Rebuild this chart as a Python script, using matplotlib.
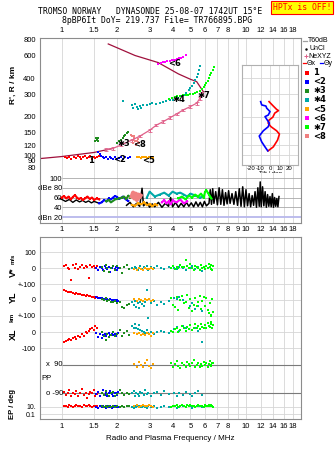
"""Dynasonde ionogram, Tromso 25-08-07 1742UT"""
import matplotlib
matplotlib.use('Agg')
import matplotlib.pyplot as plt
import matplotlib.ticker as mticker
import numpy as np

plt.rcParams['font.family'] = ['Liberation Sans', 'DejaVu Sans']
plt.rcParams['font.size'] = 5.5
plt.rcParams['axes.unicode_minus'] = False

W, H = 335.0, 451.0

# ---- axes ticks
f_ticks = [1, 1.5, 2, 3, 4, 5, 6, 7, 8, 10, 12, 14, 16, 18]
f_ticks_mid = [1, 1.5, 2, 3, 4, 5, 6, 7, 8, 9, 10, 12, 14, 16, 18]
r_ticks = [80, 90, 100, 120, 150, 200, 300, 400, 600, 800]
tilt_ticks = [-20, -10, 0, 10, 20]

# ---- echo groups
grp_names = ['1', '<2', '\u27313', '\u27314', '<5', '<6', '\u27317', '<8']
grp_colors = ['#ff0000', '#0000ff', '#1e8c1e', '#00a8a8',
              '#ffa500', '#ff00ff', '#00ff00', '#f08080']
grp_label_f = [1.45, 2.07, 2.18, 4.33, 2.95, 4.12, 5.87, 2.66]
grp_label_R = [90, 92.7, 124, 274, 90, 517, 295, 122]

# ---- virtual range R' (km) per group
e1_f = [1.04, 1.07, 1.10, 1.13, 1.16, 1.19, 1.22, 1.25, 1.28, 1.31, 1.34, 1.37, 1.40, 1.43, 1.46, 1.49, 1.52, 1.56, 1.60]
e1_R = [97, 95, 96, 94, 97, 95, 98, 96, 94, 97, 99, 95, 96, 98, 94, 97, 95, 96, 98]
e2_f = [1.58, 1.62, 1.64, 1.67, 1.70, 1.74, 1.78, 1.82, 1.86, 1.90, 1.95, 2.00, 2.05, 2.10, 2.16, 2.22, 2.28, 2.34]
e2_R = [106, 103, 98, 96, 95, 97, 94, 96, 95, 93, 96, 94, 95, 97, 94, 96, 95, 97]
e3_f = [1.52, 1.54, 1.55, 1.57, 1.58, 1.99, 2.05, 2.10, 2.14, 2.18, 2.22, 2.26, 2.30]
e3_R = [128, 135, 131, 137, 129, 124, 128, 132, 136, 140, 143, 148, 151]
e4_f = [2.16, 2.40, 2.45, 2.50, 2.55, 2.60, 2.65, 2.70, 2.76, 2.90, 3.00, 3.10, 3.25, 3.40, 3.55, 3.70,
        3.85, 4.00, 4.15, 4.30, 4.45, 4.60, 4.75, 4.90, 5.00, 5.10, 5.20, 5.30, 5.40, 5.48, 5.55, 5.62]
e4_R = [265, 245, 232, 250, 238, 228, 242, 235, 248, 246, 250, 255, 252, 258, 262, 265,
        268, 272, 276, 282, 290, 298, 308, 322, 335, 350, 368, 388, 410, 435, 465, 500]
e5_f = [2.55, 2.62, 2.68, 2.74, 2.80, 2.86, 2.92, 2.98, 3.05, 3.12]
e5_R = [96, 97, 95, 96, 97, 96, 95, 97, 96, 95]
e6_f = [3.35, 3.45, 3.55, 3.65, 3.75, 3.85, 3.95, 4.05, 4.15, 4.25, 4.35, 4.45, 4.55, 4.70]
e6_R = [520, 530, 538, 535, 545, 548, 552, 556, 560, 566, 572, 580, 588, 605]
e7_f = [3.80, 3.95, 4.10, 4.25, 4.40, 4.55, 4.70, 4.85, 5.00, 5.15, 5.30, 5.45, 5.60, 5.75, 5.90,
        6.00, 6.10, 6.20, 6.30, 6.40, 6.50, 6.60, 6.70]
e7_R = [275, 280, 284, 288, 290, 293, 296, 298, 300, 303, 306, 310, 318, 328, 340,
        352, 365, 380, 398, 420, 442, 465, 490]
e8_f = [2.37, 2.40, 2.43, 2.45, 2.48, 2.50, 2.52, 2.55, 2.58, 2.60, 2.62, 2.47, 2.53]
e8_R = [143, 140, 132, 125, 136, 128, 122, 130, 126, 134, 124, 142, 120]

# ---- profile lines
maroon_hi_f = [1.79, 2.5, 3.34, 4.3, 5.0, 5.40, 5.87]
maroon_hi_R = [741, 602, 530, 432, 392, 376, 314]
maroon_lo_f = [0.763, 1.0, 1.5, 1.9]
maroon_lo_R = [94, 97.5, 105, 113]
nexyz_f = [1.75, 1.90, 2.10, 2.40, 2.66, 3.01, 3.27, 3.56, 3.87, 4.20, 4.57, 4.97, 5.40, 5.63, 5.75]
nexyz_R = [110, 113, 120, 131, 141, 157, 172, 183, 196, 210, 226, 239, 255, 279, 305]

# ---- tilt profile
tx_R = [262, 242, 228, 223, 213, 198, 188, 178, 167, 155, 146, 131, 116, 108]
tx_deg = [-1, 3.5, 7, 9, 5, 3, -1, -2, 1, 7, 10, 8, 3.5, -2]
ty_R = [262, 247, 242, 233, 219, 206, 200, 191, 178, 167, 155, 141, 127, 116, 108]
ty_deg = [-9.9, -8.8, -4.3, -3.5, 0, -1.8, -5.3, -3.5, -0.7, -1.8, -7.1, -11.4, -8.8, -5.3, -2.4]

# ---- amplitude dBe
a1_f = [1.00, 1.03, 1.06, 1.09, 1.12, 1.15, 1.18, 1.21, 1.24, 1.27, 1.30, 1.34, 1.38, 1.42, 1.46, 1.50, 1.55, 1.60]
a1_db = [60, 63, 58, 62, 56, 61, 65, 60, 57, 59, 55, 58, 62, 57, 60, 55, 58, 56]
a2_f = [1.60, 1.65, 1.70, 1.75, 1.80, 1.85, 1.90, 1.95, 2.00, 2.05, 2.10, 2.15, 2.20, 2.25, 2.30]
a2_db = [48, 50, 55, 52, 58, 56, 60, 63, 61, 57, 59, 62, 58, 55, 53]
a3_f = [1.75, 1.80, 1.85, 1.95, 2.05, 2.12, 2.18, 2.24, 2.30, 2.36]
a3_db = [52, 55, 50, 56, 58, 60, 62, 57, 64, 60]
a4_f = [2.9, 3.0, 3.2, 3.4, 3.6, 3.8, 4.0, 4.2, 4.4, 4.6, 4.8, 5.0, 5.3, 5.6, 5.9]
a4_db = [60, 72, 62, 66, 70, 64, 72, 68, 70, 66, 62, 68, 64, 60, 62]
a5_f = [2.40, 2.50, 2.60, 2.70, 2.80, 2.90, 3.00, 3.10, 3.20, 3.30]
a5_db = [45, 43, 48, 46, 50, 44, 47, 42, 46, 44]
a6_f = [3.5, 3.6, 3.7, 3.8, 3.9, 4.0, 4.2, 4.4, 4.6, 4.8]
a6_db = [50, 55, 48, 52, 46, 54, 50, 56, 48, 52]
a7_f = [4.3, 4.5, 4.7, 4.9, 5.1, 5.3, 5.5, 5.7, 5.9, 6.0, 6.1, 6.2, 6.3, 6.4, 6.5]
a7_db = [58, 62, 56, 64, 60, 66, 62, 68, 60, 72, 75, 70, 66, 62, 58]
a8_f = [2.40, 2.44, 2.48, 2.52, 2.56, 2.60, 2.64, 2.68]
a8_db = [62, 70, 58, 68, 55, 66, 60, 64]
blk1_f = [0.98, 1.05, 1.1, 1.15, 1.2, 1.25, 1.3, 1.35, 1.4, 1.45, 1.5, 1.55, 1.6]
blk1_db = [58, 52, 56, 50, 55, 51, 54, 50, 53, 49, 52, 50, 48]
blk_f = [2.25, 2.35, 2.45, 2.55, 2.65, 2.73, 2.78, 2.9, 3.0, 3.1, 3.2, 3.35, 3.5, 3.65, 3.8, 3.9, 4.0,
         4.15, 4.3, 4.45, 4.6, 4.75, 4.9, 5.05, 5.2, 5.35, 5.5, 5.65, 5.8, 5.95, 6.1, 6.3, 6.4, 6.5,
         6.6, 6.7, 6.85, 7.0, 7.15, 7.3, 7.45, 7.6, 7.75, 7.9, 8.05, 8.2, 8.4, 8.6, 8.8, 9.0, 9.2,
         9.4, 9.6, 9.8, 10.0, 10.2, 10.4, 10.6, 10.8, 11.0, 11.2, 11.4, 11.6, 11.8, 11.95, 12.1,
         12.3, 12.5, 12.7, 12.9, 13.1, 13.3, 13.5, 13.7, 13.9, 14.1, 14.3, 14.5, 14.7, 14.9, 15.1]
blk_db = [44, 50, 41, 48, 42, 79, 43, 50, 40, 47, 41, 50, 40, 48, 42, 60, 41,
          50, 40, 48, 41, 50, 42, 49, 41, 51, 42, 50, 41, 52, 43, 48, 76, 46,
          78, 48, 72, 45, 80, 46, 76, 44, 70, 47, 74, 48, 68, 46, 72, 44, 78,
          42, 82, 41, 76, 43, 68, 41, 64, 44, 72, 40, 80, 42, 92, 41,
          82, 43, 72, 40, 66, 42, 62, 41, 68, 40, 60, 42, 58, 41, 62]

# ---- Doppler V* (m/s), location YL / XL (km), polarization PP, EP (deg)
g1_f = [1.03, 1.06, 1.08, 1.10, 1.12, 1.15, 1.18, 1.20, 1.23, 1.26, 1.29, 1.32, 1.35, 1.38, 1.40, 1.43, 1.46, 1.49, 1.52, 1.55]
g1_v = [12, 20, 0, -5, -70, 18, 5, 30, -4, 10, 22, 0, 15, 8, -62, 18, 6, 12, 2, 16]
g1_yl = [62, 58, 52, 48, 50, 45, 40, 44, 38, 36, 30, 32, 26, 30, 22, 24, 18, 20, 15, 17]
g1_xl = [-62, -55, -48, -40, -50, -38, -30, -42, -22, -28, -12, -20, 0, -5, 10, 20, 28, 15, 40, 25]
g1_pp = [-80, -100, -90, -70, -110, -85, -95, -75, -105, -90, -60, -100, -85, -120, -95, -80, -90, -70, -110, -95]
g1_ep = [12, 20, 8, 25, 15, 10, 18, 30, 12, 20, 9, 22, 16, 12, 28, 18, 10, 14, 20, 12]

g2_f = [1.54, 1.58, 1.62, 1.65, 1.68, 1.71, 1.74, 1.77, 1.80, 1.84, 1.88, 1.91, 1.94, 1.97, 2.00, 2.03]
g2_v = [5, -8, 10, 0, -12, 15, 3, -5, 8, -20, 2, 12, -3, 6, -10, 4]
g2_yl = [18, 14, 10, 12, 8, 6, 10, 4, 2, 5, 0, -3, 2, -6, -2, -8]
g2_xl = [-5, -28, -10, -35, -15, -8, -20, -12, -5, -18, -10, -15, -8, -22, -12, -6]
g2_pp = [-95, -80, -105, -90, -70, -100, -85, -110, -90, -75, -95, -105, -85, -90, -100, -80]
g2_ep = [10, 6, 14, 8, 20, 10, 5, 12, 8, 16, 6, 10, 14, 7, 12, 9]

g3_f = [1.66, 1.70, 1.73, 1.76, 1.80, 1.85, 1.90, 1.95, 2.00, 2.06, 2.12, 2.18, 2.25, 2.32]
g3_v = [10, -15, 20, 0, -25, 5, 12, -10, 15, 0, -30, 8, 18, -5]
g3_yl = [8, 2, 12, -5, 0, -10, -15, -8, -20, -12, -45, -52, -30, -25]
g3_xl = [5, -20, -45, -10, -30, -15, 0, -25, -8, 12, -20, -5, 10, -15]
g3_pp = [-85, -100, -75, -95, -110, -90, -80, -105, -95, -70, -90, -100, -85, -95]
g3_ep = [12, 8, 15, 10, 20, 9, 14, 11, 18, 8, 13, 10, 16, 12]

g4_f = [2.42, 2.46, 2.50, 2.54, 2.58, 2.62, 2.66, 2.72, 2.78, 2.85, 2.90, 2.93, 3.05, 3.15, 3.30, 3.45,
        3.60, 3.80, 4.05, 4.20, 4.35, 4.55, 4.75, 4.95, 5.10, 5.30, 5.50, 5.75]
g4_v = [5, -5, 10, 0, -8, 3, 12, -3, 6, 0, 15, -10, 8, 5, 12, 0, -6, 10, 2, -4, 8, 0, -10, 5, 12, -2, 6, -15]
g4_yl = [-10, -30, -5, -45, -20, -50, -15, -25, -35, -10, 65, -112, -20, -5, -30, -15,
         -25, -8, 15, 5, 20, 0, -10, -35, -20, -55, -40, -70]
g4_xl = [40, 25, 55, 30, 20, 45, 15, 8, 0, -5, 12, -6, 5, -8, 0, 10, 2, -4, 20, 35, 10, 40, 25, 45, 15, 30, 8, -58]
g4_pp = [-90, -75, -105, -85, -95, -110, -80, -90, -100, -70, -95, -85, -105, -90, -80, -100,
         -75, -95, -90, -110, -85, -100, -80, -95, -105, -90, -75, -100]
g4_ep = [10, 6, 15, 8, 12, 20, 7, 10, 14, 9, 5, 12, 8, 16, 6, 10, 12, 8, 15, 5, 10, 12, 8, 14, 6, 10, 16, 9]

g5_f = [2.48, 2.55, 2.62, 2.68, 2.75, 2.82, 2.90, 2.98, 3.05, 3.12]
g5_v = [-2, -8, 0, -5, -10, 2, -4, -6, 0, -3]
g5_yl = [5, -5, 8, 0, -8, 4, -2, 6, -6, 2]
g5_xl = [-5, -12, -2, -18, -8, -15, -3, -10, -20, -6]
g5_pp = [95, 75, 110, 90, 80, 100, 120, 85, 70, 95]
g5_ep = [15, 25, 10, 20, 30, 12, 18, 22, 14, 10]

g7_f = [3.90, 4.00, 4.10, 4.20, 4.30, 4.40, 4.50, 4.60, 4.70, 4.80, 4.90, 5.00, 5.10, 5.20, 5.30,
        5.40, 5.50, 5.60, 5.70, 5.80, 5.90, 6.00, 6.10, 6.20, 6.30, 6.40, 6.50, 6.60, 6.45, 6.55]
g7_v = [5, 15, -5, 8, 0, 20, 10, 10, 52, 12, 0, 25, 5, -10, 15, 8, 0, -12, 20, 5, 10, -5, 15, 0, 30, 8, -3, 12, 18, -8]
g7_yl = [10, -30, -45, 20, -60, 0, 25, -20, -10, 30, -50, 5, -70, -30, 15, -40, -15, 25, -55, -5,
         20, -35, 10, -60, -80, -20, -95, -75, -100, 5]
g7_xl = [10, 5, 20, 30, 0, 15, 40, 25, 10, 35, 20, 45, 15, 30, 50, 25, 40, 20, 55, 35,
         30, 45, 25, 60, 40, 35, 50, 45, 65, 30]
g7_pp = [100, 80, 95, 115, 85, 70, 105, 90, 75, 110, 95, 85, 100, 120, 80, 90, 105, 75, 95, 85,
         110, 90, 100, 80, 95, 115, 85, 100, 90, 105]
g7_ep = [10, 20, 15, 30, 8, 12, 25, 18, 10, 22, 14, 35, 12, 20, 9, 16, 28, 12, 20, 15,
         10, 25, 18, 12, 30, 15, 22, 10, 18, 14]

GRID = '#d6d6d6'
SPINE = '#8c8c8c'


def box(l, t, r, b):
    return [l / W, 1 - b / H, (r - l) / W, (b - t) / H]


def freq_axis(ax):
    ax.set_xscale('log')
    ax.set_xlim(0.763, 19.76)
    ax.xaxis.set_minor_locator(mticker.NullLocator())
    for s in ax.spines.values():
        s.set_color(SPINE)
        s.set_linewidth(0.8)
    for f in f_ticks_mid:
        ax.axvline(f, color=GRID, lw=0.6, zorder=0)


def fmt(v):
    return ('%g' % v)


fig = plt.figure(figsize=(W / 100, H / 100), dpi=100)
fig.patch.set_facecolor('white')

# ---------------- R' panel
ax_r = fig.add_axes(box(40, 38, 300.5, 173))
freq_axis(ax_r)
ax_r.set_yscale('log')
ax_r.set_ylim(72.5, 825)
ax_r.yaxis.set_minor_locator(mticker.NullLocator())
ax_r.set_yticks(r_ticks, labels=[str(r) for r in r_ticks])
ax_r.set_xticks(f_ticks, labels=[fmt(f) for f in f_ticks])
ax_r.xaxis.set_ticks_position('top')
ax_r.tick_params(length=0, pad=3)
ax_r.spines['bottom'].set_visible(False)

ax_r.plot(maroon_hi_f, maroon_hi_R, color='#a0103c', lw=0.9)
ax_r.plot(maroon_lo_f, maroon_lo_R, color='#a0103c', lw=0.9)
ax_r.errorbar(nexyz_f, nexyz_R, yerr=np.array(nexyz_R) * 0.025, color='#e0608a',
              lw=0.9, elinewidth=0.7, capsize=1.2, capthick=0.6)

e_f = [e1_f, e2_f, e3_f, e4_f, e5_f, e6_f, e7_f, e8_f]
e_R = [e1_R, e2_R, e3_R, e4_R, e5_R, e6_R, e7_R, e8_R]
for ff, rr, c in zip(e_f, e_R, grp_colors):
    ax_r.plot(ff, rr, 's', ms=2.1, mew=0, color=c)
for name, ff, rr in zip(grp_names, grp_label_f, grp_label_R):
    ax_r.text(ff, rr, name, fontsize=6, ha='center', va='center',
              family=['DejaVu Sans'], fontweight='bold')

fig.text(13 / W, 1 - 85 / H, "R', R / km", rotation=90, ha='center', va='center',
         fontsize=6, fontweight='bold')

# ---------------- tilt inset
ax_t = fig.add_axes(box(241.7, 65, 298.3, 165))
ax_t.set_yscale('log')
ax_t.set_ylim(83.7, 507)
ax_t.set_xlim(-30, 30)
ax_t.yaxis.set_minor_locator(mticker.NullLocator())
ax_t.set_yticks([100, 120, 150, 200, 300, 400], labels=[])
ax_t.set_xticks(tilt_ticks, labels=[str(t) for t in tilt_ticks])
ax_t.tick_params(length=0, pad=1, labelsize=4.3)
ax_t.grid(color=GRID, lw=0.6)
for s in ax_t.spines.values():
    s.set_color('#b0b0b0')
ax_t.plot(tx_deg, tx_R, color='#ff0000', lw=1.2)
ax_t.plot(ty_deg, ty_R, color='#0000ff', lw=1.2)
ax_t.set_xlabel('Tilt / deg', fontsize=4.3, labelpad=0)

# ---------------- dBe panel
ax_d = fig.add_axes(box(40, 173, 300.5, 223))
freq_axis(ax_d)
ax_d.set_ylim(7.7, 110.3)
ax_d.spines['top'].set_visible(False)
ax_d.set_xticks(f_ticks_mid, labels=[fmt(f) for f in f_ticks_mid])
ax_d.set_yticks([20, 40, 60, 80, 100], labels=['dBn 20', '40', '60', 'dBe 80', '100'])
ax_d.tick_params(axis='x', length=0, pad=2)
ax_d.tick_params(axis='y', length=0, pad=-16)
ax_d.hlines([40, 60, 80, 100], 1.0, 19.76, color='#a8a8a8', lw=0.6, zorder=0)
ax_d.hlines([20], 1.0, 19.76, color='#b8b8ec', lw=1.3, zorder=0)
ax_d.plot(blk1_f, blk1_db, color='k', lw=1.0)
ax_d.plot(blk_f, blk_db, color='k', lw=1.1)
a_f = [a1_f, a2_f, a3_f, a4_f, a5_f, a6_f, a7_f, a8_f]
a_db = [a1_db, a2_db, a3_db, a4_db, a5_db, a6_db, a7_db, a8_db]
for ff, dd, c in zip(a_f, a_db, grp_colors):
    lw = 3.0 if c == '#f08080' else 1.5
    ax_d.plot(ff, dd, color=c, lw=lw, marker='s', ms=1.6, mew=0)

# ---------------- lower panel (rows in pixel-like units)
V0, YL0, XL0 = 150.7, 119.0, 86.7
PPX, PPO = 54.0, 25.7
EP_LO = 4.7
K = 0.16          # units per m/s or km
PK = (PPX - PPO) / 180.0

ax_l = fig.add_axes(box(40, 237, 300.5, 419))
freq_axis(ax_l)
ax_l.set_ylim(0, 182)
ax_l.set_xticks(f_ticks, labels=[fmt(f) for f in f_ticks])
ax_l.tick_params(length=0, pad=3)
ax_l.tick_params(axis='y', labelsize=5)
ep_pos = [EP_LO + 2 * 3.8, EP_LO]
ytk = [V0 + 100 * K, V0, V0 - 100 * K, YL0, YL0 - 100 * K, XL0, XL0 - 100 * K] + ep_pos
ax_l.set_yticks(ytk, labels=['100', '0', '+-100', '0', '+-100', '0', '-100', '10.', '0.1'])
ax_l.hlines(ytk, 0.763, 19.76, color=GRID, lw=0.6, zorder=0)
ax_l.hlines([PPX, PPO], 1.0, 19.76, color='#7a7a7a', lw=0.8, zorder=0)

lf = [g1_f, g2_f, g3_f, g4_f, g5_f, g7_f]
lv = [g1_v, g2_v, g3_v, g4_v, g5_v, g7_v]
lyl = [g1_yl, g2_yl, g3_yl, g4_yl, g5_yl, g7_yl]
lxl = [g1_xl, g2_xl, g3_xl, g4_xl, g5_xl, g7_xl]
lpp = [g1_pp, g2_pp, g3_pp, g4_pp, g5_pp, g7_pp]
lep = [g1_ep, g2_ep, g3_ep, g4_ep, g5_ep, g7_ep]
lcol = [grp_colors[i] for i in (0, 1, 2, 3, 4, 6)]
for ff, v, yl, xl, pp, ep, c in zip(lf, lv, lyl, lxl, lpp, lep, lcol):
    kw = dict(ls='none', marker='s', ms=2.1, mew=0, color=c)
    ax_l.plot(ff, V0 + K * np.array(v), **kw)
    ax_l.plot(ff, YL0 + K * np.array(yl), **kw)
    ax_l.plot(ff, XL0 + K * np.array(xl), **kw)
    ax_l.plot(ff, (PPX + PPO) / 2 + PK * np.array(pp), **kw)
    ax_l.plot(ff, EP_LO + 3.8 * (np.log10(ep) + 1), **kw)

fig.text(13 / W, 1 - 272 / H, 'V*', rotation=90, ha='center', va='center', fontsize=6.5, fontweight='bold')
fig.text(13 / W, 1 - 259 / H, 'm/s', rotation=90, ha='center', va='center', fontsize=4.3, fontweight='bold')
fig.text(13 / W, 1 - 297 / H, 'YL', rotation=90, ha='center', va='center', fontsize=6.5, fontweight='bold')
fig.text(12 / W, 1 - 317 / H, 'km', rotation=90, ha='center', va='center', fontsize=4.6, fontweight='bold')
fig.text(13 / W, 1 - 334 / H, 'XL', rotation=90, ha='center', va='center', fontsize=6.5, fontweight='bold')
fig.text(46 / W, 1 - 379 / H, 'PP', ha='center', va='center', fontsize=5.5)
fig.text(54.5 / W, 1 - 365 / H, 'x  90', ha='center', va='center', fontsize=5.5)
fig.text(54.5 / W, 1 - 393.3 / H, 'o -90', ha='center', va='center', fontsize=5.5)
fig.text(13 / W, 1 - 404 / H, 'EP / deg', rotation=90, ha='center', va='center', fontsize=5.5, fontweight='bold')
fig.text(170 / W, 1 - 439 / H, 'Radio and Plasma Frequency / MHz', ha='center', va='center', fontsize=5.8)

# ---------------- header
fig.text(150 / W, 1 - 12 / H, 'TROMSO NORWAY   DYNASONDE 25-08-07 1742UT 15\u00b0E',
         family='DejaVu Sans Mono', fontsize=5.9, ha='center', va='center')
fig.text(157 / W, 1 - 20.5 / H, '8pBP6It DoY= 219.737 File= TR766895.BPG',
         family='DejaVu Sans Mono', fontsize=5.9, ha='center', va='center')
fig.text(302 / W, 1 - 7.5 / H, 'HPTx is OFF!', family='DejaVu Sans Mono', fontsize=5.9,
         color='red', ha='center', va='center',
         bbox=dict(facecolor='#ffff00', edgecolor='red', lw=0.8, pad=1.2))

# ---------------- legend column (pixel coordinates)
ax_g = fig.add_axes(box(300.5, 35, 335, 145))
ax_g.set_xlim(300.5, 335)
ax_g.set_ylim(145, 35)
ax_g.axis('off')
ax_g.plot([302.7, 306.7], [40.7, 40.7], color='#a0a0a0', lw=0.9)
ax_g.text(307.7, 40.7, 'T60dB', va='center', fontsize=5)
ax_g.plot([305.7], [49], '.', color='k', ms=1.5)
ax_g.text(309, 49, 'UnCl', va='center', fontsize=5)
ax_g.plot([305.5], [56], '+', color='#e0608a', ms=3, mew=0.7)
ax_g.text(308.7, 56, 'NeXYZ', va='center', fontsize=5)
ax_g.plot([302.7, 305.7], [63.3, 63.3], color='#ff0000', lw=0.9)
ax_g.text(307, 63.3, '\u0398x', va='center', fontsize=5)
ax_g.plot([319.5, 323], [63.3, 63.3], color='#0000ff', lw=0.9)
ax_g.text(324, 63.3, '\u0398y', va='center', fontsize=5)
for i, (name, c) in enumerate(zip(grp_names, grp_colors)):
    yy = 72.7 + 9.1 * i
    ax_g.plot([306.7], [yy], 's', ms=2.4, mew=0, color=c)
    ax_g.text(313, yy, name, va='center', fontsize=6, family=['DejaVu Sans'], fontweight='bold')

fig.savefig('out.png', dpi=100)
